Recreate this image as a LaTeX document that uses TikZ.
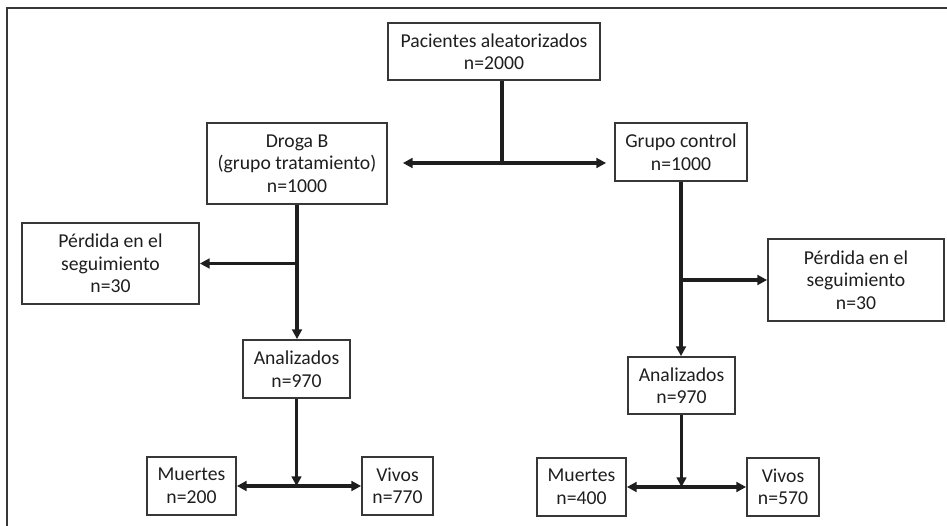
\documentclass[tikz,border=0pt]{standalone}
\usepackage{fontspec}
\setmainfont{Carlito}
\usetikzlibrary{arrows.meta,positioning}
\definecolor{boxgray}{RGB}{55,55,55}
\definecolor{inkgray}{RGB}{30,30,30}

\begin{document}
\begin{tikzpicture}[x=0.02cm, y=-0.02cm,
            box/.style={rectangle, draw=boxgray, line width=1pt, align=center, inner sep=2pt, text=inkgray, font=\fontsize{11.2}{12.8}\selectfont},
            link/.style={line width=2pt, inkgray},
            arrow/.style={link, -{Triangle[length=5.5pt,width=5.5pt]}},
            dblarrow/.style={link, {Triangle[length=5.5pt,width=5.5pt]}-{Triangle[length=5.5pt,width=5.5pt]}}
        ]
        \useasboundingbox (0,0) rectangle (947,526);
        
        % Marco
        \draw[boxgray, line width=1pt] (7,526) -- (7,8) -- (947,8);
        
        \node[box, minimum width=4.24cm, minimum height=1.14cm] (pac) at (494,51.5) {Pacientes aleatorizados\\n=2000};
        \node[box, minimum width=3.6cm, minimum height=1.62cm] (drogab) at (297,163.5) {Droga B\\(grupo tratamiento)\\n=1000};
        \node[box, minimum width=2.64cm, minimum height=1.16cm] (control) at (681,152) {Grupo control\\n=1000};
        \node[box, minimum width=3.54cm, minimum height=1.62cm] (perdL) at (110.5,263.5) {Pérdida en el\\seguimiento\\n=30};
        \node[box, minimum width=3.52cm, minimum height=1.64cm] (perdR) at (856,280) {Pérdida en el\\seguimiento\\n=30};
        \node[box, minimum width=2.14cm, minimum height=1.16cm] (anaL) at (296.5,369) {Analizados\\n=970};
        \node[box, minimum width=2.14cm, minimum height=1.14cm] (anaR) at (681.5,385.5) {Analizados\\n=970};
        \node[box, minimum width=1.78cm, minimum height=1.16cm] (muerL) at (191.5,486) {Muertes\\n=200};
        \node[box, minimum width=1.42cm, minimum height=1.16cm] (vivL) at (397.5,486) {Vivos\\n=770};
        \node[box, minimum width=1.78cm, minimum height=1.16cm] (muerR) at (581.5,487) {Muertes\\n=400};
        \node[box, minimum width=1.44cm, minimum height=1.16cm] (vivR) at (783,487) {Vivos\\n=570};
        
        % Aleatorización
        \coordinate (split) at (502,163);
        \draw[link] (pac.south -| split) -- (split);
        \draw[arrow, shorten >=0.3cm] (split) -- (split -| drogab.east);
        \draw[arrow, shorten >=0.16cm] (split) -- (split -| control.west);
        
        % Grupo tratamiento
        \draw[arrow] (drogab.south) -- (drogab.south |- anaL.north);
        \draw[arrow] (drogab.south |- perdL.east) -- (perdL.east);
        \draw[arrow] (anaL.south) -- (anaL.south |- muerL.east);
        \draw[dblarrow] (muerL.east) -- (vivL.west);
        
        % Grupo control
        \draw[arrow] (control.south) -- (control.south |- anaR.north);
        \draw[arrow] (control.south |- perdR.west) -- (perdR.west);
        \draw[arrow] (anaR.south) -- (anaR.south |- muerR.east);
        \draw[dblarrow] (muerR.east) -- (vivR.west);
\end{tikzpicture}
\end{document}
